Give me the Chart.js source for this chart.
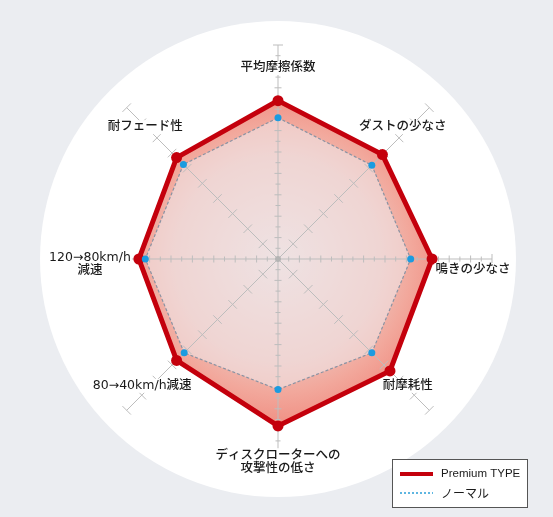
<!DOCTYPE html>
<html>
<head>
<meta charset="utf-8">
<script src="https://cdn.jsdelivr.net/npm/chart.js@4.4.1/dist/chart.umd.min.js"></script>
<style>
  html, body { margin: 0; padding: 0; background: #ebedf1; }
  #wrap { width: 553px; height: 517px; }
</style>
</head>
<body>
<div id="wrap"><canvas id="chart"></canvas></div>
<script>
const categories = [
  '平均摩擦係数',
  'ダストの少なさ',
  '鳴きの少なさ',
  '耐摩耗性',
  ['ディスクローターへの', '攻撃性の低さ'],
  '80→40km/h減速',
  ['120→80km/h', '減速'],
  '耐フェード性'
];
const premiumValues = [7.4, 6.9, 7.2, 7.4, 7.8, 6.7, 6.5, 6.7];
const normalValues = [6.6, 6.2, 6.2, 6.2, 6.1, 6.2, 6.2, 6.25];
const seriesNames = ['Premium TYPE', 'ノーマル'];
const scaleMax = 10;

const labelFont = '500 12.5px "DejaVu Sans", "Noto Sans CJK JP", sans-serif';

// label placement: distance from centre along the axis, then a small nudge
const labelPlace = [[191, 0, 0], [185, -6, -1], [195, 0, 11], [185, -1, -4],
                    [203, 0, 0], [185, -5, -4], [188, 0, 5], [185, -2, -1]];

const radarDeco = {
  id: 'radarDeco',
  beforeDraw(chart) {
    const ctx = chart.ctx;
    const s = chart.scales.r;
    ctx.save();
    ctx.fillStyle = '#ebedf1';
    ctx.fillRect(0, 0, chart.width, chart.height);
    ctx.fillStyle = '#ffffff';
    ctx.beginPath();
    ctx.arc(s.xCenter, s.yCenter, s.drawingArea * 1.112, 0, Math.PI * 2);
    ctx.fill();
    ctx.restore();
  },
  beforeDatasetsDraw(chart) {
    const ctx = chart.ctx;
    const s = chart.scales.r;
    const n = chart.data.labels.length;
    ctx.save();
    ctx.strokeStyle = '#bdbdbd';
    ctx.lineWidth = 1;
    for (let i = 0; i < n; i++) {
      const end = s.getPointPosition(i, s.drawingArea);
      ctx.beginPath();
      ctx.moveTo(s.xCenter, s.yCenter);
      ctx.lineTo(end.x, end.y);
      ctx.stroke();
      const a = end.angle;
      const px = -Math.sin(a), py = Math.cos(a);
      const step = i % 2 === 0 ? 0.5 : 1;
      for (let v = step; v <= scaleMax + 1e-9; v += step) {
        const p = s.getPointPosition(i, s.getDistanceFromCenterForValue(v));
        let half;
        if (i % 2 === 0) half = (v === scaleMax) ? 5 : (Number.isInteger(v) ? 3.5 : 2.5);
        else half = 6;
        ctx.beginPath();
        ctx.moveTo(p.x - px * half, p.y - py * half);
        ctx.lineTo(p.x + px * half, p.y + py * half);
        ctx.stroke();
      }
    }
    ctx.fillStyle = '#b4b4b4';
    ctx.beginPath();
    ctx.arc(s.xCenter, s.yCenter, 3, 0, Math.PI * 2);
    ctx.fill();
    ctx.restore();
  },
  afterDraw(chart) {
    const ctx = chart.ctx;
    const s = chart.scales.r;
    ctx.save();
    ctx.font = labelFont;
    ctx.textAlign = 'center';
    ctx.textBaseline = 'middle';
    chart.data.labels.forEach((lab, i) => {
      const lines = Array.isArray(lab) ? lab : [lab];
      const [d, ox, oy] = labelPlace[i];
      const p = s.getPointPosition(i, d);
      const cx = p.x + ox, cy = p.y + oy;
      const lh = 13.5;
      const top = cy - (lines.length - 1) * lh / 2;
      let w = 0;
      lines.forEach(t => { w = Math.max(w, ctx.measureText(t).width); });
      ctx.fillStyle = '#ffffff';
      ctx.fillRect(cx - w / 2 - 1, top - 7, w + 2, (lines.length - 1) * lh + 14);
      ctx.fillStyle = '#1a1a1a';
      lines.forEach((t, k) => ctx.fillText(t, cx, top + k * lh));
    });

    // legend box
    const bx = 392, by = 459, bw = 135, bh = 48;
    ctx.fillStyle = '#ffffff';
    ctx.fillRect(bx, by, bw, bh);
    ctx.strokeStyle = '#555555';
    ctx.lineWidth = 1;
    ctx.strokeRect(bx + 0.5, by + 0.5, bw, bh);
    const ds = chart.data.datasets;
    ctx.lineWidth = 4;
    ctx.strokeStyle = ds[0].borderColor;
    ctx.beginPath();
    ctx.moveTo(bx + 8, by + 15);
    ctx.lineTo(bx + 41, by + 15);
    ctx.stroke();
    ctx.lineWidth = 1.5;
    ctx.strokeStyle = '#2a9fd8';
    ctx.setLineDash([2, 2]);
    ctx.beginPath();
    ctx.moveTo(bx + 8, by + 34);
    ctx.lineTo(bx + 41, by + 34);
    ctx.stroke();
    ctx.setLineDash([]);
    ctx.fillStyle = '#1a1a1a';
    ctx.textAlign = 'left';
    ctx.font = '11.5px "Liberation Sans", "Noto Sans CJK JP", sans-serif';
    ctx.fillText(ds[0].label, bx + 49, by + 15);
    ctx.font = '12px "Noto Sans CJK JP", sans-serif';
    ctx.fillText(ds[1].label, bx + 49, by + 34);
    ctx.restore();
  }
};

function premiumFill(context) {
  const chart = context.chart;
  const s = chart.scales.r;
  if (!s || s.xCenter === undefined || !s.drawingArea) return 'rgba(240,160,150,0.8)';
  const g = chart.ctx.createRadialGradient(s.xCenter, s.yCenter, 0, s.xCenter, s.yCenter, s.drawingArea * 0.8);
  g.addColorStop(0, 'rgb(236,222,222)');
  g.addColorStop(0.6, 'rgb(238,190,182)');
  g.addColorStop(0.78, 'rgb(242,168,156)');
  g.addColorStop(1, 'rgb(240,140,128)');
  return g;
}

new Chart(document.getElementById('chart'), {
  type: 'radar',
  data: {
    labels: categories,
    datasets: [
      {
        label: seriesNames[0],
        data: premiumValues,
        order: 1,
        fill: true,
        backgroundColor: premiumFill,
        borderColor: '#c4000c',
        borderWidth: 5,
        pointRadius: 5.5,
        pointBackgroundColor: '#c4000c',
        pointBorderWidth: 0
      },
      {
        label: seriesNames[1],
        data: normalValues,
        order: 0,
        fill: true,
        backgroundColor: 'rgba(240,228,230,0.6)',
        borderColor: '#8a93a3',
        borderWidth: 1.2,
        borderDash: [3, 2],
        pointRadius: 3.5,
        pointBackgroundColor: '#1b9be0',
        pointBorderWidth: 0
      }
    ]
  },
  options: {
    responsive: true,
    maintainAspectRatio: false,
    animation: false,
    layout: { padding: { left: 64, right: 61, top: 45, bottom: 44 } },
    scales: {
      r: {
        min: 0,
        max: scaleMax,
        ticks: { display: false, stepSize: 1 },
        grid: { display: false },
        angleLines: { display: false },
        pointLabels: { display: false }
      }
    },
    plugins: {
      legend: { display: false },
      tooltip: { enabled: false },
      filler: { drawTime: 'beforeDatasetsDraw' }
    }
  },
  plugins: [radarDeco]
});
</script>
</body>
</html>
